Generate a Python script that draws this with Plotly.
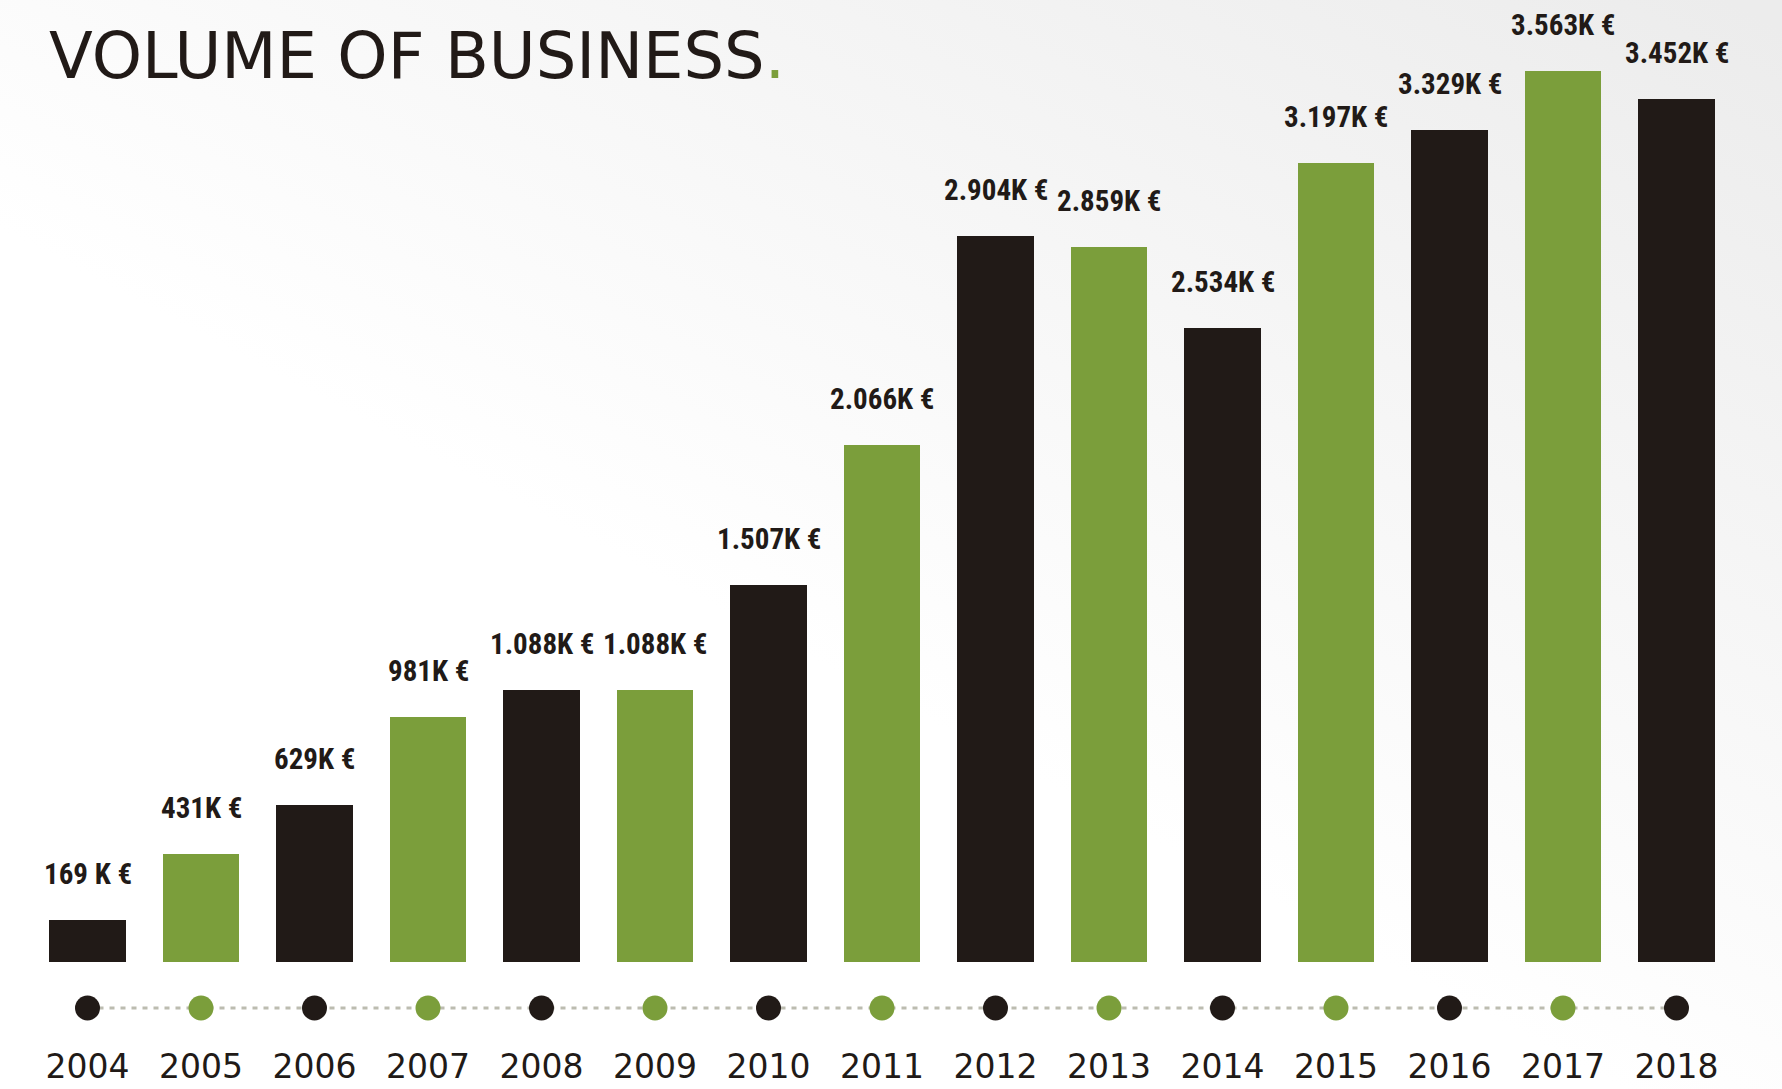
import base64
import plotly.graph_objects as go

# ---- data ----
years = [2004, 2005, 2006, 2007, 2008, 2009, 2010, 2011, 2012, 2013, 2014, 2015, 2016, 2017, 2018]
volume_k_eur = [169, 431, 629, 981, 1088, 1088, 1507, 2066, 2904, 2859, 2534, 3197, 3329, 3563, 3452]
value_labels = ["169 K €", "431K €", "629K €", "981K €", "1.088K €", "1.088K €", "1.507K €",
                "2.066K €", "2.904K €", "2.859K €", "2.534K €", "3.197K €", "3.329K €",
                "3.563K €", "3.452K €"]
year_labels = [str(y) for y in years]

# ---- style ----
BLACK = "#211a17"
GREEN = "#7b9e3b"
palette = [BLACK, GREEN]
colors = [palette[i % 2] for i in range(len(years))]
LABEL_FONT = "Roboto Condensed, Liberation Sans Narrow, DejaVu Sans"

W, H = 1782, 1089
MT, MB = 0, 45
plot_h = H - MT - MB
bar_base_px = 962      # pixel row of the bar baseline
dot_px = 1008          # pixel row of the timeline dots
px_per_unit = 0.25007

y_dom_bottom = (MT + plot_h - bar_base_px) / plot_h
y_max = (bar_base_px - MT) / px_per_unit
dot_frac = (MT + plot_h - dot_px) / plot_h

fig = go.Figure()

fig.add_trace(go.Bar(
    x=years, y=volume_k_eur, marker=dict(color=colors, line=dict(width=0)),
    width=0.67, xaxis="x", yaxis="y", hoverinfo="x+y", showlegend=False,
))

# timeline dotted line
fig.add_trace(go.Scatter(
    x=years, y=[0] * len(years), mode="lines", xaxis="x", yaxis="y2",
    line=dict(color="#bcbcb0", width=3, dash="5px,6px"), hoverinfo="skip", showlegend=False,
))
# timeline dots
fig.add_trace(go.Scatter(
    x=years, y=[0] * len(years), mode="markers", xaxis="x", yaxis="y2",
    marker=dict(color=colors, size=25, line=dict(width=0)), hoverinfo="x", showlegend=False,
))

annotations = []
for yr, v, lab in zip(years, volume_k_eur, value_labels):
    annotations.append(dict(
        x=yr, y=v, xref="x", yref="y", text=lab, showarrow=False,
        yanchor="bottom", xanchor="center", yshift=27,
        font=dict(family=LABEL_FONT, size=29, color=BLACK, weight="bold"),
    ))

spacing_px = 113.5
x_first_px = 87.5
r0 = years[0] - x_first_px / spacing_px
r1 = r0 + W / spacing_px

# soft grey background gradient (top-right corner)
svg = (
    "<svg xmlns='http://www.w3.org/2000/svg' width='1782' height='1089'>"
    "<defs><linearGradient id='g' x1='0.45' y1='0.6' x2='0.97' y2='0' gradientUnits='objectBoundingBox'>"
    "<stop offset='0' stop-color='#ffffff'/><stop offset='1' stop-color='#ececec'/>"
    "</linearGradient></defs><rect width='1782' height='1089' fill='url(#g)'/></svg>"
)
bg_src = "data:image/svg+xml;base64," + base64.b64encode(svg.encode()).decode()

fig.update_layout(
    width=W, height=H,
    margin=dict(l=0, r=0, t=MT, b=MB),
    paper_bgcolor="white", plot_bgcolor="rgba(0,0,0,0)",
    images=[dict(source=bg_src, xref="paper", yref="paper", x=0, y=1, sizex=1, sizey=1 + MB / plot_h,
                 xanchor="left", yanchor="top", sizing="stretch", layer="below")],
    title=dict(
        text="VOLUME OF BUSINESS<span style='color:%s'>.</span>" % GREEN,
        x=49 / W, xref="container", xanchor="left",
        y=1 - 33 / H, yref="container", yanchor="top",
        font=dict(family="DejaVu Sans, sans-serif", size=64, color=BLACK),
        automargin=False,
    ),
    xaxis=dict(
        range=[r0, r1], anchor="y2", tickmode="array", tickvals=years, ticktext=year_labels,
        showgrid=False, zeroline=False, showline=False, ticks="", automargin=False,
        tickfont=dict(family="DejaVu Sans, sans-serif", size=33, color=BLACK),
        fixedrange=True,
    ),
    yaxis=dict(
        domain=[y_dom_bottom, 1], range=[0, y_max], visible=False, showgrid=False,
        fixedrange=True, automargin=False,
    ),
    yaxis2=dict(
        domain=[0, 2 * dot_frac], range=[-1, 1], visible=False, showgrid=False,
        fixedrange=True, automargin=False,
    ),
    annotations=annotations,
    bargap=0,
)

fig.write_html("out.html", post_script="document.body.style.margin='0';",
               config={"displayModeBar": False})
